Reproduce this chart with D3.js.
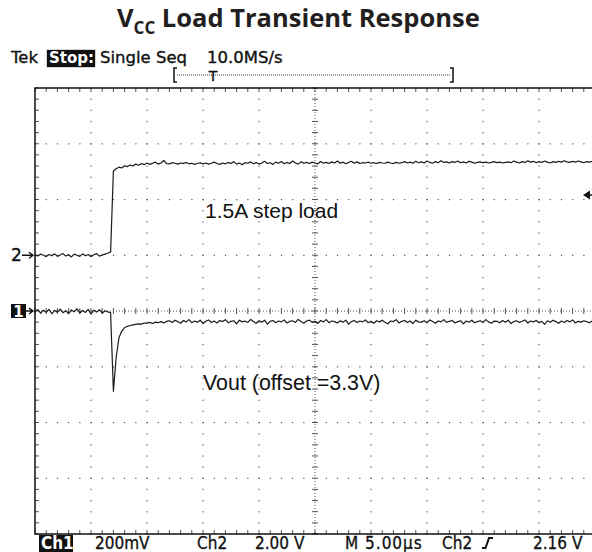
<!DOCTYPE html>
<html>
<head>
<meta charset="utf-8">
<script src="https://cdnjs.cloudflare.com/ajax/libs/d3/7.8.5/d3.min.js"></script>
<style>
  body { margin: 0; background: #fff; }
  .scope { font-family: "DejaVu Sans Condensed", "DejaVu Sans", sans-serif; }
  .hdr { font-family: "DejaVu Sans", sans-serif; }
  .note { font-family: "Liberation Sans", Arial, sans-serif; }
</style>
</head>
<body>
<div id="chart-area"></div>
<script>
// scope record: one sample every 0.25 µs, 50 µs across the screen
var sampleStep = 0.25;
var timeTicks = [0, 5, 10, 15, 20, 25, 30, 35, 40, 45, 50];   // µs, 5 µs/div
var divTicks = [-4, -3, -2, -1, 0, 1, 2, 3, 4];

// Ch1: Vout, AC part in mV (200 mV/div)
var ch1Values = [
  -2, 5, -8, 3, -5, 6, -10, 2, -4, 7,
  -6, 1, -9, 4, -3, 8, -7, 2, -5, 6,
  -11, 3, -4, 5, -8, 1, -3, -6,
  -288, -165, -95, -72, -60, -55, -52, -50, -48, -46,
  -47, -43, -44, -41, -45, -40, -42, -38, -43, -37,
  -35, -41, -33, -38, -44, -34, -39, -31, -42, -36,
  -40, -33, -45, -37, -32, -41, -36, -43, -34, -38,
  -31, -42, -37, -35, -46, -33, -39, -36, -41, -30,
  -38, -44, -35, -40, -33, -47, -37, -34, -42, -36,
  -39, -32, -43, -37, -35, -41, -30, -38, -44, -36,
  -33, -40, -37, -45, -34, -39, -31, -42, -36, -38,
  -43, -35, -40, -33, -47, -38, -34, -41, -36, -39,
  -32, -42, -37, -44, -35, -39, -33, -40, -46, -36,
  -38, -31, -43, -37, -34, -41, -36, -45, -33, -39,
  -40, -35, -42, -32, -38, -44, -36, -39, -31, -41,
  -37, -34, -43, -38, -35, -46, -36, -40, -33, -42,
  -38, -35, -41, -31, -39, -44, -36, -37, -42, -34,
  -40, -33, -45, -38, -35, -41, -37, -32, -43, -36,
  -39, -34, -42, -37, -48, -35, -40, -33, -38, -44,
  -36, -41, -34, -39, -32, -43, -37, -40, -35, -38,
  -42, -36, -39
];

// Ch2: load step control, V (2 V/div)
var ch2Values = [
  0.02, -0.03, 0.04, 0.00, -0.05, 0.03, -0.02, 0.05, -0.04, 0.01,
  0.06, -0.03, 0.02, -0.06, 0.04, 0.00, -0.04, 0.05, -0.02, 0.03,
  -0.05, 0.02, 0.06, -0.03, 0.01, 0.04, 0.07, 0.12,
  3.02, 3.10, 3.16, 3.13, 3.21, 3.18, 3.24, 3.20, 3.27, 3.23,
  3.29, 3.25, 3.31, 3.26, 3.30, 3.34, 3.27, 3.31, 3.40, 3.29,
  3.28, 3.32, 3.30, 3.27, 3.31, 3.29, 3.33, 3.28, 3.30, 3.26,
  3.29, 3.32, 3.28, 3.31, 3.27, 3.30, 3.34, 3.29, 3.26, 3.31,
  3.28, 3.33, 3.29, 3.36, 3.27, 3.31, 3.25, 3.32, 3.30, 3.35,
  3.28, 3.33, 3.27, 3.31, 3.37, 3.29, 3.32, 3.26, 3.34, 3.30,
  3.36, 3.28, 3.33, 3.29, 3.38, 3.31, 3.27, 3.35, 3.30, 3.33,
  3.29, 3.34, 3.31, 3.28, 3.36, 3.30, 3.33, 3.29, 3.35, 3.31,
  3.38, 3.30, 3.34, 3.28, 3.33, 3.37, 3.30, 3.35, 3.29, 3.32,
  3.31, 3.34, 3.30, 3.32, 3.29, 3.33, 3.31, 3.30, 3.34, 3.31,
  3.29, 3.33, 3.30, 3.32, 3.36, 3.31, 3.34, 3.30, 3.37, 3.32,
  3.35, 3.31, 3.38, 3.33, 3.30, 3.36, 3.32, 3.39, 3.33, 3.35,
  3.31, 3.36, 3.33, 3.38, 3.32, 3.35, 3.31, 3.37, 3.34, 3.30,
  3.33, 3.35, 3.32, 3.34, 3.31, 3.33, 3.36, 3.32, 3.34, 3.31,
  3.33, 3.35, 3.32, 3.38, 3.34, 3.31, 3.36, 3.33, 3.39, 3.34,
  3.37, 3.32, 3.36, 3.33, 3.38, 3.34, 3.31, 3.36, 3.33, 3.37,
  3.34, 3.39, 3.35, 3.33, 3.37, 3.34, 3.38, 3.35, 3.32, 3.36,
  3.34, 3.37, 3.35
];

var ch1VoltsDiv = 200;   // mV
var ch2VoltsDiv = 2;     // V
var ch2Position = 1;     // div above centre
var triggerLevel = 2.16; // V on Ch2

var headerTexts = ["Tek", "Stop:", "Single Seq", "10.0MS/s"];
var readoutTexts = ["Ch1", "200mV", "Ch2", "2.00 V", "M 5.00\u00b5s", "Ch2", "2.16 V"];
var annotations = ["1.5A step load", "Vout (offset =3.3V)"];

var width = 592, height = 552;
var plot = { left: 35, right: 595, top: 88, bottom: 534 };

var svg = d3.select("#chart-area").append("svg")
  .attr("width", width)
  .attr("height", height);

var x = d3.scaleLinear().domain([0, 50]).range([plot.left, plot.right]);
var yDiv = d3.scaleLinear().domain([-4, 4]).range([plot.bottom, plot.top]);
var y1 = d3.scaleLinear().domain([-4 * ch1VoltsDiv, 4 * ch1VoltsDiv]).range([plot.bottom, plot.top]);
var y2 = d3.scaleLinear()
  .domain([(-4 - ch2Position) * ch2VoltsDiv, (4 - ch2Position) * ch2VoltsDiv])
  .range([plot.bottom, plot.top]);

var xMinor = d3.range(0, 50.001, 1);
var yMinor = d3.range(-4, 4.001, 0.2);
var gridColor = "#555";

// ---- title
var title = svg.append("text")
  .attr("x", 117).attr("y", 27)
  .attr("font-family", "'Open Sans', 'Noto Sans', sans-serif")
  .attr("font-weight", 700)
  .attr("font-size", 25.5)
  .attr("fill", "#231f20");
title.append("tspan").text("V");
title.append("tspan").attr("font-size", 17).attr("dy", 7).text("CC");
title.append("tspan").attr("dy", -7).text(" Load Transient Response");

// ---- header line (slightly emboldened like the scope's screen font)
var hdr = svg.append("g").attr("class", "hdr").attr("font-size", 16.5).attr("fill", "#111")
  .attr("stroke", "#111").attr("stroke-width", 0.35);
hdr.append("text").attr("x", 11).attr("y", 63).text(headerTexts[0]);
hdr.append("rect").attr("x", 47).attr("y", 50).attr("width", 48).attr("height", 17).attr("fill", "#111");
hdr.append("text").attr("x", 49).attr("y", 63).attr("fill", "#fff").attr("stroke", "none").attr("font-weight", "bold")
  .attr("font-size", 15).text(headerTexts[1]);
hdr.append("text").attr("x", 100).attr("y", 63).text(headerTexts[2]);
hdr.append("text").attr("x", 207).attr("y", 63).text(headerTexts[3]);

// record bracket with trigger point
hdr.append("path").attr("d", "M177,68H174V82H177M450,68H453V82H450")
  .attr("fill", "none").attr("stroke", "#111").attr("stroke-width", 1.5);
hdr.append("line").attr("x1", 177).attr("x2", 450).attr("y1", 75).attr("y2", 75)
  .attr("stroke", "#333").attr("stroke-width", 1).attr("stroke-dasharray", "1,1");
hdr.append("text").attr("x", 213).attr("y", 81).attr("text-anchor", "middle")
  .attr("font-size", 14).text("T");

// ---- graticule
var grat = svg.append("g");

// dotted major lines (dots at each minor step)
timeTicks.filter(function(t) { return t !== 0 && t !== 25 && t !== 50; }).forEach(function(t) {
  grat.selectAll(null).data(yMinor).enter().append("rect")
    .attr("x", x(t) - 0.5).attr("y", function(d) { return yDiv(d) - 0.5; })
    .attr("width", 1.2).attr("height", 1.2).attr("fill", gridColor);
});
divTicks.filter(function(d) { return d !== -4 && d !== 0 && d !== 4; }).forEach(function(dv) {
  grat.selectAll(null).data(xMinor).enter().append("rect")
    .attr("x", function(d) { return x(d) - 0.5; }).attr("y", yDiv(dv) - 0.5)
    .attr("width", 1.2).attr("height", 1.2).attr("fill", gridColor);
});

// centre cross with minor ticks
grat.append("line").attr("x1", x(25)).attr("x2", x(25)).attr("y1", plot.top).attr("y2", plot.bottom)
  .attr("stroke", gridColor).attr("stroke-dasharray", "1,2");
grat.append("line").attr("x1", plot.left).attr("x2", plot.right).attr("y1", yDiv(0)).attr("y2", yDiv(0))
  .attr("stroke", gridColor).attr("stroke-dasharray", "1,2");
grat.selectAll(null).data(yMinor).enter().append("line")
  .attr("x1", x(25) - 3).attr("x2", x(25) + 3)
  .attr("y1", function(d) { return yDiv(d); }).attr("y2", function(d) { return yDiv(d); })
  .attr("stroke", gridColor);
grat.selectAll(null).data(xMinor).enter().append("line")
  .attr("y1", yDiv(0) - 3).attr("y2", yDiv(0) + 3)
  .attr("x1", function(d) { return x(d); }).attr("x2", function(d) { return x(d); })
  .attr("stroke", gridColor);

// border ticks
grat.selectAll(null).data(xMinor).enter().append("line")
  .attr("x1", function(d) { return x(d); }).attr("x2", function(d) { return x(d); })
  .attr("y1", plot.top).attr("y2", plot.top + 4).attr("stroke", gridColor);
grat.selectAll(null).data(xMinor).enter().append("line")
  .attr("x1", function(d) { return x(d); }).attr("x2", function(d) { return x(d); })
  .attr("y1", plot.bottom).attr("y2", plot.bottom - 4).attr("stroke", gridColor);
grat.selectAll(null).data(yMinor).enter().append("line")
  .attr("x1", plot.left).attr("x2", plot.left + 4)
  .attr("y1", function(d) { return yDiv(d); }).attr("y2", function(d) { return yDiv(d); })
  .attr("stroke", gridColor);

grat.append("path")
  .attr("d", "M" + plot.right + "," + plot.top + "H" + plot.left + "V" + plot.bottom + "H" + plot.right)
  .attr("fill", "none").attr("stroke", "#111").attr("stroke-width", 1.5);

// ---- traces
var line1 = d3.line()
  .x(function(d, i) { return x(i * sampleStep); })
  .y(function(d) { return y1(d); });
var line2 = d3.line()
  .x(function(d, i) { return x(i * sampleStep); })
  .y(function(d) { return y2(d); });

svg.append("path").datum(ch2Values).attr("d", line2)
  .attr("fill", "none").attr("stroke", "#1a1a1a").attr("stroke-width", 1.2).attr("stroke-linejoin", "round");
svg.append("path").datum(ch1Values).attr("d", line1)
  .attr("fill", "none").attr("stroke", "#1a1a1a").attr("stroke-width", 1.2).attr("stroke-linejoin", "round");

// ---- channel ground markers
var mk = svg.append("g").attr("class", "hdr");
mk.append("text").attr("x", 11).attr("y", y2(0) + 6).attr("font-size", 17).attr("fill", "#111")
  .attr("stroke", "#111").attr("stroke-width", 0.35).text("2");
mk.append("path").attr("d", "M22," + y2(0) + "H33M29," + (y2(0) - 3) + "L33," + y2(0) + "L29," + (y2(0) + 3))
  .attr("fill", "none").attr("stroke", "#111").attr("stroke-width", 1.4);
mk.append("rect").attr("x", 11).attr("y", y1(0) - 7).attr("width", 15).attr("height", 14).attr("fill", "#111");
mk.append("text").attr("x", 18.5).attr("y", y1(0) + 5.5).attr("text-anchor", "middle")
  .attr("font-size", 15).attr("font-weight", "bold").attr("fill", "#fff").text("1");
mk.append("path").attr("d", "M26," + y1(0) + "H33M29," + (y1(0) - 3) + "L33," + y1(0) + "L29," + (y1(0) + 3))
  .attr("fill", "none").attr("stroke", "#111").attr("stroke-width", 1.4);

// trigger level marker on the right edge
var ty = y2(triggerLevel);
svg.append("path").attr("d", "M583," + ty + "L590," + (ty - 4.5) + "L590," + (ty + 4.5) + "Z").attr("fill", "#111");
svg.append("line").attr("x1", 589).attr("x2", 592).attr("y1", ty).attr("y2", ty).attr("stroke", "#111").attr("stroke-width", 1.5);

// ---- annotations
svg.append("text").attr("class", "note").attr("x", 205).attr("y", 218)
  .attr("font-size", 21).attr("fill", "#111").text(annotations[0]);
svg.append("text").attr("class", "note").attr("x", 203).attr("y", 390)
  .attr("font-size", 21.4).attr("fill", "#111").text(annotations[1]);

// ---- bottom readout
var readoutX = [41, 95, 197, 255, 345, 442, 533];
var ro = svg.append("g").attr("class", "scope").attr("font-size", 17).attr("fill", "#111");
ro.append("rect").attr("x", 39).attr("y", 535).attr("width", 34).attr("height", 17).attr("fill", "#111");
ro.selectAll("text").data(readoutTexts).enter().append("text")
  .attr("x", function(d, i) { return readoutX[i]; })
  .attr("y", 549)
  .attr("fill", function(d, i) { return i === 0 ? "#fff" : "#111"; })
  .attr("stroke", function(d, i) { return i === 0 ? null : "#111"; })
  .attr("stroke-width", 0.3)
  .attr("font-weight", function(d, i) { return i === 0 ? "bold" : null; })
  .attr("letter-spacing", function(d, i) { return i === 4 ? 1 : null; })
  .text(function(d) { return d; });
// rising-edge slope symbol
ro.append("path").attr("d", "M482,548H485.5L489,538H493")
  .attr("fill", "none").attr("stroke", "#111").attr("stroke-width", 2);
</script>
</body>
</html>
